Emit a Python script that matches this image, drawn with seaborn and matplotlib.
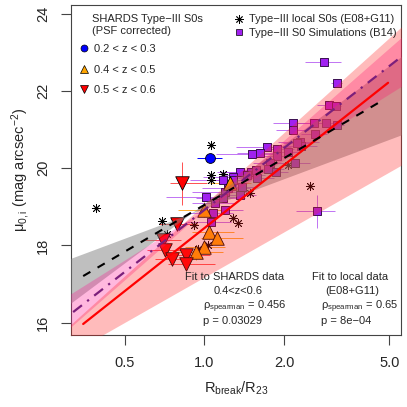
import numpy as np
import pandas as pd
import matplotlib
matplotlib.use("Agg")
import matplotlib.pyplot as plt
import seaborn as sns
from matplotlib.lines import Line2D

# ---- data ----
# SHARDS 0.2<z<0.3
blue_x = [1.046]
blue_y = [20.26]
blue_xlo = [0.11]
blue_xhi = [0.12]

# SHARDS 0.4<z<0.5
orange_x = [1.251, 0.997, 1.044, 1.117, 0.997, 0.930]
orange_y = [19.62, 18.93, 18.35, 18.19, 17.97, 17.82]
orange_xlo = [0.20, 0.20, 0.15, 0.15, 0.15, 0.15]
orange_xhi = [0.25, 0.20, 0.25, 0.28, 0.20, 0.25]
orange_yerr = [0.15, 0.20, 0.20, 0.15, 0.15, 0.20]

# SHARDS 0.5<z<0.6
red_x = [0.821, 0.791, 0.698, 0.707, 0.753, 0.853, 0.849]
red_y = [19.61, 18.56, 18.14, 17.88, 17.64, 17.74, 17.52]
red_xlo = [0.08, 0.12, 0.10, 0.10, 0.10, 0.10, 0.12]
red_xhi = [0.20, 0.15, 0.12, 0.12, 0.15, 0.20, 0.25]
red_yerr = [0.55, 0.15, 0.15, 0.15, 0.15, 0.15, 0.15]

# local S0s (E08+G11)
local_x = [1.063, 0.390, 0.694, 1.055, 1.055, 1.174, 0.914, 0.720, 1.033,
           1.482, 1.284, 1.341, 2.080, 2.513, 0.947]
local_y = [20.61, 18.96, 18.63, 19.83, 19.70, 19.85, 18.53, 18.30, 18.01,
           19.35, 18.71, 18.58, 20.09, 19.54, 17.91]

# simulations (B14)
sim_x = [2.843, 3.167, 2.961, 3.147, 2.170, 2.159, 2.598, 2.877, 3.183, 2.621,
         2.301, 2.315, 1.721, 1.878, 2.078, 1.878, 1.508, 1.624, 2.235, 2.203,
         1.772, 1.866, 1.497, 1.365, 1.287, 1.568, 1.446, 1.180, 1.578, 1.385,
         1.232, 1.198, 1.365, 1.180, 1.015, 1.098, 1.198, 1.060, 1.081, 2.661,
         1.746, 1.287]
sim_y = [22.75, 22.20, 21.64, 21.62, 21.18, 20.99, 21.17, 21.17, 21.12, 20.89,
         20.69, 20.58, 20.54, 20.50, 20.41, 20.31, 20.37, 20.39, 20.65, 20.13,
         20.13, 19.91, 19.91, 19.91, 19.78, 19.96, 19.83, 19.70, 19.74, 19.52,
         19.48, 19.39, 19.31, 19.22, 19.26, 19.09, 18.92, 18.62, 18.83, 18.88,
         19.97, 19.70]
sim_xerr = [0.45, 0.15, 0.30, 0.15, 0.35, 0.30, 0.35, 0.30, 0.20, 0.30,
            0.40, 0.35, 0.40, 0.30, 0.25, 0.35, 0.40, 0.30, 0.25, 0.30,
            0.25, 0.20, 0.30, 0.25, 0.30, 0.20, 0.25, 0.30, 0.25, 0.20,
            0.25, 0.30, 0.20, 0.25, 0.30, 0.20, 0.20, 0.20, 0.20, 0.45,
            0.25, 0.20]
sim_yerr = [0.05] * 39 + [0.42] + [0.05] * 2

# fits: y = a + b*log10(x)
shards_a, shards_b = 18.45, 5.42
local_a, local_b = 19.05, 4.02
sim_a, sim_b = 18.92, 5.33
# band edges (intercept, slope) pairs
shards_band = [(17.18, 3.894), (19.07, 6.165)]
local_band = [(18.96, 2.56), (19.09, 5.11)]
sim_band = [(18.92, 4.3), (18.92, 6.0)]

# ---- figure ----
sns.set_style("ticks")
plt.rcParams['font.family'] = ['Liberation Sans', 'DejaVu Sans']
plt.rcParams['mathtext.fontset'] = 'custom'
plt.rcParams['mathtext.rm'] = 'Liberation Sans'
plt.rcParams['mathtext.it'] = 'Liberation Sans:italic'
plt.rcParams['mathtext.default'] = 'regular'

fig = plt.figure(figsize=(4.07, 4.07), dpi=100)
ax = fig.add_axes([71 / 407, 72 / 407, 330 / 407, 330 / 407])
ax.set_xscale('log')

# error bars
ax.errorbar(sim_x, sim_y, xerr=sim_xerr, yerr=sim_yerr, fmt='none',
            ecolor='#B050F0', elinewidth=0.7, alpha=0.8, zorder=1)
ax.errorbar(orange_x, orange_y, xerr=[orange_xlo, orange_xhi], yerr=orange_yerr,
            fmt='none', ecolor='#FFB030', elinewidth=0.7, zorder=1)
ax.errorbar(red_x, red_y, xerr=[red_xlo, red_xhi], yerr=red_yerr,
            fmt='none', ecolor='#FF5050', elinewidth=0.7, zorder=1)
ax.errorbar(blue_x, blue_y, xerr=[blue_xlo, blue_xhi], fmt='none',
            ecolor='blue', elinewidth=0.7, zorder=1)

# points
sns.scatterplot(x=local_x, y=local_y, marker=(8, 2, 0), s=36, color='black',
                linewidth=0.6, ax=ax, zorder=2)
sns.scatterplot(x=sim_x, y=sim_y, marker='s', s=36, color='#A020F0',
                edgecolor='#3a1050', linewidth=0.7, ax=ax, zorder=2)
sns.scatterplot(x=orange_x, y=orange_y, marker='^', s=95, color='orange',
                edgecolor='black', linewidth=0.6, ax=ax, zorder=2)
sns.scatterplot(x=red_x, y=red_y, marker='v', s=95, color='red',
                edgecolor='black', linewidth=0.6, ax=ax, zorder=2)
sns.scatterplot(x=blue_x, y=blue_y, marker='o', s=50, color='blue',
                edgecolor='black', linewidth=0.6, ax=ax, zorder=2)

# bands
L = np.linspace(np.log10(0.3), np.log10(5.8), 300)
xs = 10 ** L


def band(pairs):
    l1 = pairs[0][0] + pairs[0][1] * L
    l2 = pairs[1][0] + pairs[1][1] * L
    return np.minimum(l1, l2), np.maximum(l1, l2)


lo, hi = band(local_band)
ax.fill_between(xs, lo, hi, color='#808080', alpha=0.5, lw=0, zorder=3)
lo, hi = band(sim_band)
ax.fill_between(xs, lo, hi, color='#FF1493', alpha=0.3, lw=0, zorder=3)
lo, hi = band(shards_band)
ax.fill_between(xs, lo, hi, color='#FF2020', alpha=0.3, lw=0, zorder=3)

# fit lines
xr = np.linspace(np.log10(0.348), np.log10(4.95), 50)
ax.plot(10 ** xr, shards_a + shards_b * xr, color='red', lw=1.6, zorder=4)
xl = np.linspace(np.log10(0.348), np.log10(4.75), 50)
ax.plot(10 ** xl, local_a + local_b * xl, color='black', lw=1.5,
        dashes=(4, 4), zorder=4)
ax.plot(xs, sim_a + sim_b * L, color='#7B1F7B', lw=1.6,
        dashes=(1, 3, 5, 3), zorder=4)

# axes
ax.set_xlim(0.313, 5.54)
ax.set_ylim(15.68, 24.23)
ax.set_xticks([0.5, 1, 2, 5])
ax.set_xticklabels(['0.5', '1.0', '2.0', '5.0'])
ax.xaxis.set_minor_locator(matplotlib.ticker.NullLocator())
ax.set_yticks([16, 18, 20, 22, 24])
ax.set_yticklabels(['16', '18', '20', '22', '24'], rotation=90, va='center')
ax.tick_params(labelsize=10.5, length=7, width=0.8, color='#444444', pad=8)
for s in ax.spines.values():
    s.set_color('#444444')
    s.set_linewidth(0.8)
ax.set_xlabel(r'R$_{\rm break}$/R$_{23}$', fontsize=10.5, labelpad=7)
ax.set_ylabel(r'$\mu_{0,i}$ (mag arcsec$^{-2}$)', fontsize=10.5, labelpad=3)

# legends
ax.text(0.064, 0.958, 'SHARDS Type\u2212III S0s', transform=ax.transAxes,
        fontsize=8, va='center', ha='left', zorder=6)
ax.text(0.064, 0.922, '(PSF corrected)', transform=ax.transAxes,
        fontsize=8, va='center', ha='left', zorder=6)
h1 = [Line2D([], [], ls='none', marker='o', ms=5, mfc='blue', mec='black', mew=0.5),
      Line2D([], [], ls='none', marker='^', ms=6, mfc='orange', mec='black', mew=0.5),
      Line2D([], [], ls='none', marker='v', ms=6, mfc='red', mec='black', mew=0.5)]
leg1 = ax.legend(h1, ['0.2 < z < 0.3', '0.4 < z < 0.5', '0.5 < z < 0.6'],
                 loc='upper left', bbox_to_anchor=(0.0, 0.905), frameon=False,
                 fontsize=8, handlelength=1.0, handletextpad=0.4,
                 labelspacing=0.95, borderaxespad=0.3)
ax.add_artist(leg1)
h2 = [Line2D([], [], ls='none', marker=(8, 2, 0), ms=6, color='black', mew=0.6),
      Line2D([], [], ls='none', marker='s', ms=4.5, mfc='#A020F0', mec='black', mew=0.5)]
ax.legend(h2, ['Type\u2212III local S0s (E08+G11)', 'Type\u2212III S0 Simulations (B14)'],
          loc='upper left', bbox_to_anchor=(0.47, 0.995), frameon=False,
          fontsize=8, handlelength=1.0, handletextpad=0.4, labelspacing=0.35,
          borderaxespad=0.3)

# annotations
ax.text(0.497, 0.176, 'Fit to SHARDS data', transform=ax.transAxes,
        fontsize=8, ha='center', va='center', zorder=6)
ax.text(0.506, 0.133, '0.4<z<0.6', transform=ax.transAxes,
        fontsize=8, ha='center', va='center', zorder=6)
ax.text(0.40, 0.085, r'$\rho_{\rm spearman}$ = 0.456', transform=ax.transAxes,
        fontsize=8, ha='left', va='center', zorder=6)
ax.text(0.40, 0.042, 'p = 0.03029', transform=ax.transAxes,
        fontsize=8, ha='left', va='center', zorder=6)
ax.text(0.845, 0.176, 'Fit to local data', transform=ax.transAxes,
        fontsize=8, ha='center', va='center', zorder=6)
ax.text(0.852, 0.133, '(E08+G11)', transform=ax.transAxes,
        fontsize=8, ha='center', va='center', zorder=6)
ax.text(0.758, 0.085, r'$\rho_{\rm spearman}$ = 0.65', transform=ax.transAxes,
        fontsize=8, ha='left', va='center', zorder=6)
ax.text(0.758, 0.042, 'p = 8e\u221204', transform=ax.transAxes,
        fontsize=8, ha='left', va='center', zorder=6)

fig.savefig('out.png', dpi=100)
